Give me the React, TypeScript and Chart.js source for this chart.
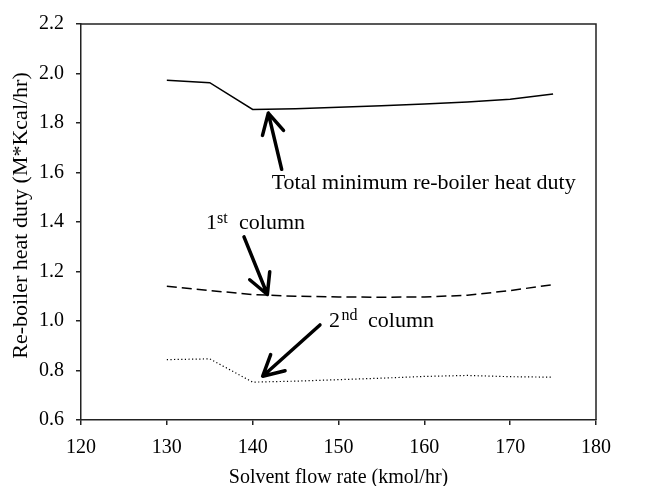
import { useEffect, useRef } from "react";
import { Chart, registerables } from "chart.js";

Chart.register(...registerables);

const solventFlow = [130, 135, 140, 145, 150, 155, 160, 165, 170, 175];
const totalDuty = [1.973, 1.963, 1.855, 1.858, 1.864, 1.87, 1.877, 1.885, 1.896, 1.917];
const firstColumn = [1.14, 1.123, 1.107, 1.1, 1.097, 1.096, 1.097, 1.104, 1.123, 1.147];
const secondColumn = [0.844, 0.847, 0.753, 0.757, 0.763, 0.769, 0.776, 0.78, 0.775, 0.773];

const xTicks = [120, 130, 140, 150, 160, 170, 180];
const yTicks = [0.6, 0.8, 1.0, 1.2, 1.4, 1.6, 1.8, 2.0, 2.2];

const yTitle = "Re-boiler heat duty (M*Kcal/hr)";
const xTitle = "Solvent flow rate (kmol/hr)";

// annotation arrows: [tailX, tailY, tipX, tipY] in data units
const arrows = [
  [143.38, 1.613, 141.82, 1.84],
  [138.99, 1.34, 141.71, 1.107],
  [147.84, 0.984, 141.17, 0.777],
];

// annotation texts: [text, x, y, fontSize] in data units
const labels: [string, number, number, number][] = [
  ["Total minimum re-boiler heat duty", 142.22, 1.532, 22],
  ["1", 134.56, 1.371, 22],
  ["st", 135.84, 1.397, 16],
  ["column", 138.41, 1.371, 22],
  ["2", 148.89, 0.976, 22],
  ["nd", 150.34, 1.004, 16],
  ["column", 153.44, 0.974, 22],
];

const FONT = "'Liberation Serif', 'Times New Roman', serif";

const annotationPlugin = {
  id: "annotationsAndFrame",
  afterDatasetsDraw(chart: any) {
    const { ctx, chartArea, scales } = chart;
    const xs = scales.x;
    const ys = scales.y;
    ctx.save();
    // frame top and right
    ctx.strokeStyle = "#222";
    ctx.lineWidth = 1.5;
    ctx.beginPath();
    ctx.moveTo(chartArea.left, chartArea.top);
    ctx.lineTo(chartArea.right, chartArea.top);
    ctx.lineTo(chartArea.right, chartArea.bottom);
    ctx.stroke();

    // arrows
    ctx.strokeStyle = "#000";
    ctx.lineWidth = 3.5;
    ctx.lineCap = "round";
    ctx.lineJoin = "round";
    for (const a of arrows) {
      const x1 = xs.getPixelForValue(a[0]);
      const y1 = ys.getPixelForValue(a[1]);
      const x2 = xs.getPixelForValue(a[2]);
      const y2 = ys.getPixelForValue(a[3]);
      const ang = Math.atan2(y1 - y2, x1 - x2);
      const hl = 23;
      const spread = (28 * Math.PI) / 180;
      ctx.beginPath();
      ctx.moveTo(x1, y1);
      ctx.lineTo(x2, y2);
      ctx.moveTo(x2 + hl * Math.cos(ang - spread), y2 + hl * Math.sin(ang - spread));
      ctx.lineTo(x2, y2);
      ctx.lineTo(x2 + hl * Math.cos(ang + spread), y2 + hl * Math.sin(ang + spread));
      ctx.stroke();
    }

    // texts
    ctx.fillStyle = "#000";
    ctx.textAlign = "left";
    ctx.textBaseline = "alphabetic";
    for (const [t, x, y, fs] of labels) {
      ctx.font = `${fs}px ${FONT}`;
      ctx.fillText(t, xs.getPixelForValue(x), ys.getPixelForValue(y));
    }

    // y axis title
    ctx.save();
    ctx.translate(21, (chartArea.top + chartArea.bottom) / 2 - 6.5);
    ctx.rotate(-Math.PI / 2);
    ctx.font = `22px ${FONT}`;
    ctx.textAlign = "center";
    ctx.textBaseline = "middle";
    ctx.fillText(yTitle, 0, 0);
    ctx.restore();

    ctx.restore();
  },
};

export default function App() {
  const ref = useRef<HTMLCanvasElement | null>(null);
  useEffect(() => {
    if (!ref.current) return;
    const chart = new Chart(ref.current, {
      type: "line",
      data: {
        labels: solventFlow,
        datasets: [
          {
            label: "Total",
            data: solventFlow.map((x, i) => ({ x, y: totalDuty[i] })),
            borderColor: "#000",
            borderWidth: 1.5,
            pointRadius: 0,
            tension: 0,
            fill: false,
          },
          {
            label: "1st column",
            data: solventFlow.map((x, i) => ({ x, y: firstColumn[i] })),
            borderColor: "#000",
            borderWidth: 1.5,
            borderDash: [10, 5],
            pointRadius: 0,
            tension: 0,
            fill: false,
          },
          {
            label: "2nd column",
            data: solventFlow.map((x, i) => ({ x, y: secondColumn[i] })),
            borderColor: "#000",
            borderWidth: 1.2,
            borderDash: [1.2, 2.4],
            pointRadius: 0,
            tension: 0,
            fill: false,
          },
        ],
      },
      options: {
        animation: false,
        responsive: false,
        maintainAspectRatio: false,
        layout: { padding: { left: 0, right: 59, top: 20, bottom: 0 } },
        plugins: { legend: { display: false }, tooltip: { enabled: false } },
        scales: {
          x: {
            type: "linear",
            min: 120,
            max: 180,
            afterBuildTicks: (s: any) => {
              s.ticks = xTicks.map((v) => ({ value: v }));
            },
            afterFit: (s: any) => {
              s.height = 66;
            },
            grid: { drawOnChartArea: false, drawTicks: true, tickLength: 5, color: "#222", lineWidth: 1.5 },
            border: { display: true, color: "#222", width: 1.5 },
            ticks: {
              color: "#000",
              font: { family: FONT, size: 20 },
              padding: 11,
              maxRotation: 0,
              callback: (v: any) => String(v),
            },
            title: {
              display: true,
              text: xTitle,
              color: "#000",
              font: { family: FONT, size: 20, lineHeight: 0.8 },
              padding: { top: 0, bottom: 0 },
            },
          },
          y: {
            type: "linear",
            min: 0.6,
            max: 2.2,
            afterBuildTicks: (s: any) => {
              s.ticks = yTicks.map((v) => ({ value: v }));
            },
            afterFit: (s: any) => {
              s.width = 81;
            },
            grid: { drawOnChartArea: false, drawTicks: true, tickLength: 5, color: "#222", lineWidth: 1.5 },
            border: { display: true, color: "#222", width: 1.5 },
            ticks: {
              color: "#000",
              font: { family: FONT, size: 20 },
              padding: 12,
              callback: (v: any) => Number(v).toFixed(1),
            },
            title: { display: false },
          },
        },
      },
      plugins: [annotationPlugin],
    });
    return () => chart.destroy();
  }, []);
  return (
    <div style={{ position: "fixed", left: 0, top: 0, width: 655, height: 486, background: "#fff" }}>
      <canvas ref={ref} width={655} height={486} style={{ display: "block" }} />
    </div>
  );
}
